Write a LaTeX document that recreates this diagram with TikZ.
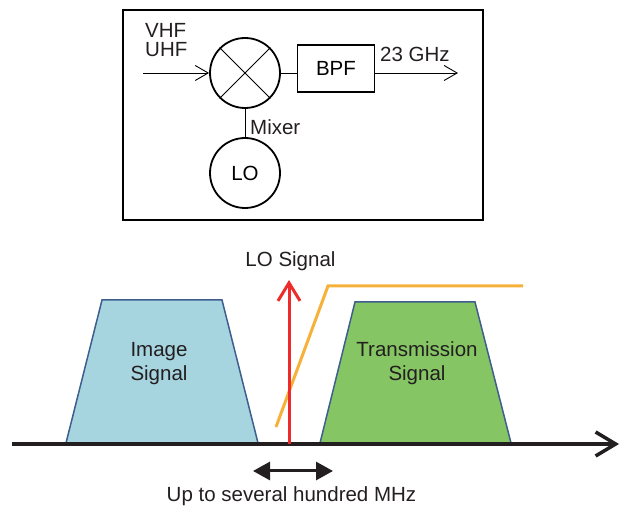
\documentclass[tikz,border=0pt]{standalone}
\usepackage{fontspec}
\setmainfont{Liberation Sans}
\usetikzlibrary{arrows.meta}
\definecolor{imgblue}{HTML}{A6D4DF}
\definecolor{txgreen}{HTML}{85C563}
\definecolor{edgeblue}{HTML}{3E5E8E}
\definecolor{filtorange}{HTML}{F6B13A}
\definecolor{lored}{HTML}{EE2B2B}
\definecolor{axisblack}{HTML}{231F20}
\begin{document}
\begin{tikzpicture}[x=1pt,y=-1pt,
  font=\fontsize{20.5}{24}\selectfont,
  lbl/.style={anchor=base, inner sep=0pt, text=axisblack},
  lblw/.style={anchor=base west, inner sep=0pt, text=axisblack},
  thick box/.style={draw, line width=1.8pt, inner sep=0pt},
  ring/.style={circle, draw, line width=1.8pt, minimum size=70pt, inner sep=0pt},
  thinline/.style={line width=0.9pt},
  openarrow/.style={thinline, -{Straight Barb[length=13pt,width=15pt,line width=0.9pt]}},
  band/.style={draw=edgeblue, line width=1.5pt, line join=miter}
]
\useasboundingbox (0,0) rectangle (622,510);

% ---------- block diagram ----------
\node[thick box, minimum width=360pt, minimum height=210pt] (frame) at (303,115) {};
\node[ring] (mix) at (245,73) {};
\draw[thinline] (mix.north west) -- (mix.south east);
\draw[thinline] (mix.north east) -- (mix.south west);
\node[ring] (lo) at (245,173) {LO};
\draw[thinline] (mix.south) -- (lo.north);
\node[thick box, minimum width=77pt, minimum height=47pt] (bpf) at (336,68.5) {BPF};
\draw[thinline] (mix.east) -- (mix.east -| bpf.west);
\coordinate (in) at (143,73);
\coordinate (out) at (458,73);
\draw[openarrow] (in) -- (mix.west);
\draw[openarrow] (bpf.east |- out) -- (out);
\node[lblw] (vhf) at (145,38) {VHF};
\node[lblw] (uhf) at (145,57) {UHF};
\node[lblw] (mixlbl) at (250,135) {Mixer};
\node[lblw] (ghz) at (380,62) {23 GHz};

% ---------- spectrum ----------
\draw[band, fill=imgblue] (66,443) -- (102,300) -- (222,300) -- (258,443) -- cycle;
\draw[band, fill=txgreen] (320,443) -- (355,302) -- (475,302) -- (511,443) -- cycle;
\node[lbl] (img1) at (159,357) {Image};
\node[lbl] (img2) at (159,381) {Signal};
\node[lbl] (tx1) at (417,357) {Transmission};
\node[lbl] (tx2) at (417,381) {Signal};

\coordinate (ax0) at (12,444);
\coordinate (ax1) at (619,444);
\draw[axisblack, line width=3.5pt, -{Straight Barb[length=20pt,width=24pt,line width=3.5pt]}] (ax0) -- (ax1);

\coordinate (f0) at (276,427);
\coordinate (f1) at (328,286);
\coordinate (f2) at (523,286);
\draw[filtorange, line width=3pt] (f0) -- (f1) -- (f2);

\coordinate (lo0) at (289,444);
\coordinate (lo1) at (289,280);
\draw[lored, line width=3pt, -{Straight Barb[length=18pt,width=22pt,line width=3pt]}] (lo0) -- (lo1);
\node[lbl] (losig) at (290.5,267) {LO Signal};

\coordinate (d0) at (253,471);
\coordinate (d1) at (333,471);
\draw[axisblack, line width=3pt, {Triangle[length=17pt,width=18pt]}-{Triangle[length=17pt,width=18pt]}] (d0) -- (d1);
\node[lbl] (range) at (291.5,502) {Up to several hundred MHz};
\end{tikzpicture}
\end{document}
